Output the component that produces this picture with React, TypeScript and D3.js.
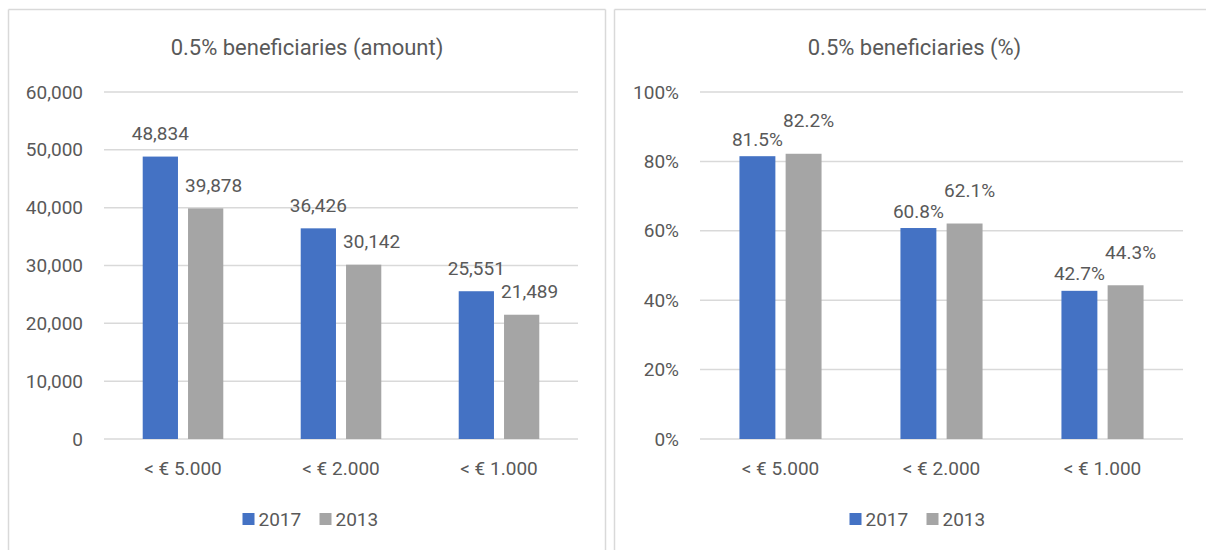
import React from "react";
import * as d3 from "d3";

const categories = ["< € 5.000", "< € 2.000", "< € 1.000"];
const seriesNames = ["2017", "2013"];
const amount2017 = [48834, 36426, 25551];
const amount2013 = [39878, 30142, 21489];
const pct2017 = [81.5, 60.8, 42.7];
const pct2013 = [82.2, 62.1, 44.3];
const amountTicks = [0, 10000, 20000, 30000, 40000, 50000, 60000];
const pctTicks = [0, 20, 40, 60, 80, 100];

const colors: Record<string, string> = { "2017": "#4472C4", "2013": "#A5A5A5" };
const FONT = "Roboto, 'Noto Sans', sans-serif";
const TEXT = "#595959";
const GRID = "#D9D9D9";
const LABEL_SIZE = 19;

type PanelProps = {
  px: number;
  pw: number;
  plotL: number;
  plotR: number;
  title: string;
  s2017: number[];
  s2013: number[];
  ticks: number[];
  tickFmt: (v: number) => string;
  labelFmt: (v: number) => string;
  labelOff: Record<string, { dx: number; dy: number }>;
  legendCx: number;
  rightBorder: boolean;
};

function Panel(p: PanelProps) {
  const top = 92;
  const bottom = 439;
  const y = d3.scaleLinear().domain([0, d3.max(p.ticks) as number]).range([bottom, top]);
  const x0 = d3.scaleBand<string>().domain(categories).range([p.plotL, p.plotR]).paddingInner(0.49).paddingOuter(0.245);
  const x1 = d3.scaleBand<string>().domain(seriesNames).range([0, x0.bandwidth()]).paddingInner(0.222);
  const data: Record<string, number[]> = { "2017": p.s2017, "2013": p.s2013 };
  const legendItem = 60;
  const legendGap = 17;
  const legendStart = p.legendCx - (legendItem * 2 + legendGap) / 2;
  return (
    <g>
      <line x1={p.px} x2={p.px + p.pw} y1={9.5} y2={9.5} stroke={GRID} strokeWidth={1.5} />
      <line x1={p.px} x2={p.px} y1={9.5} y2={560} stroke={GRID} strokeWidth={1.5} />
      {p.rightBorder && (
        <line x1={p.px + p.pw} x2={p.px + p.pw} y1={9.5} y2={560} stroke={GRID} strokeWidth={1.5} />
      )}
      <text x={p.px + p.pw / 2} y={47} textAnchor="middle" dominantBaseline="central" fontFamily={FONT} fontSize={22} fill={TEXT}>
        {p.title}
      </text>
      {p.ticks.map((t) => (
        <g key={t}>
          <line x1={p.plotL} x2={p.plotR} y1={y(t)} y2={y(t)} stroke={GRID} strokeWidth={1.5} />
          <text x={p.plotL - 21} y={y(t)} textAnchor="end" dominantBaseline="central" fontFamily={FONT} fontSize={LABEL_SIZE} fill={TEXT}>
            {p.tickFmt(t)}
          </text>
        </g>
      ))}
      {categories.map((c, i) => (
        <g key={c}>
          {seriesNames.map((s) => {
            const v = data[s][i];
            const bx = (x0(c) as number) + (x1(s) as number);
            const bw = x1.bandwidth();
            return (
              <g key={s}>
                <rect x={bx} y={y(v)} width={bw} height={bottom - y(v)} fill={colors[s]} />
                <text
                  x={bx + bw / 2 + p.labelOff[s].dx}
                  y={y(v) + p.labelOff[s].dy}
                  textAnchor="middle"
                  dominantBaseline="central"
                  fontFamily={FONT}
                  fontSize={LABEL_SIZE}
                  fill={TEXT}
                >
                  {p.labelFmt(v)}
                </text>
              </g>
            );
          })}
          <text
            x={(x0(c) as number) + x0.bandwidth() / 2}
            y={468}
            textAnchor="middle"
            dominantBaseline="central"
            fontFamily={FONT}
            fontSize={LABEL_SIZE}
            fill={TEXT}
          >
            {c}
          </text>
        </g>
      ))}
      {seriesNames.map((s, i) => {
        const lx = legendStart + i * (legendItem + legendGap);
        return (
          <g key={s}>
            <rect x={lx} y={513} width={12} height={12} fill={colors[s]} />
            <text x={lx + 16} y={519} dominantBaseline="central" fontFamily={FONT} fontSize={LABEL_SIZE} fill={TEXT}>
              {s}
            </text>
          </g>
        );
      })}
    </g>
  );
}

export default function App() {
  const fmtComma = d3.format(",");
  return (
    <svg width={1206} height={550} style={{ position: "absolute", left: 0, top: 0, background: "#fff" }}>
      <rect x={0} y={0} width={1206} height={550} fill="#fff" />
      <Panel
        px={8.5}
        pw={597}
        plotL={104}
        plotR={578}
        title="0.5% beneficiaries (amount)"
        s2017={amount2017}
        s2013={amount2013}
        ticks={amountTicks}
        tickFmt={(v) => fmtComma(v)}
        labelFmt={(v) => fmtComma(v)}
        labelOff={{ "2017": { dx: 0, dy: -23 }, "2013": { dx: 8, dy: -23 } }}
        legendCx={311}
        rightBorder={true}
      />
      <Panel
        px={614.5}
        pw={600}
        plotL={700}
        plotR={1183}
        title="0.5% beneficiaries (%)"
        s2017={pct2017}
        s2013={pct2013}
        ticks={pctTicks}
        tickFmt={(v) => `${v}%`}
        labelFmt={(v) => `${v.toFixed(1)}%`}
        labelOff={{ "2017": { dx: 0, dy: -17 }, "2013": { dx: 5, dy: -33 } }}
        legendCx={918}
        rightBorder={false}
      />
    </svg>
  );
}
